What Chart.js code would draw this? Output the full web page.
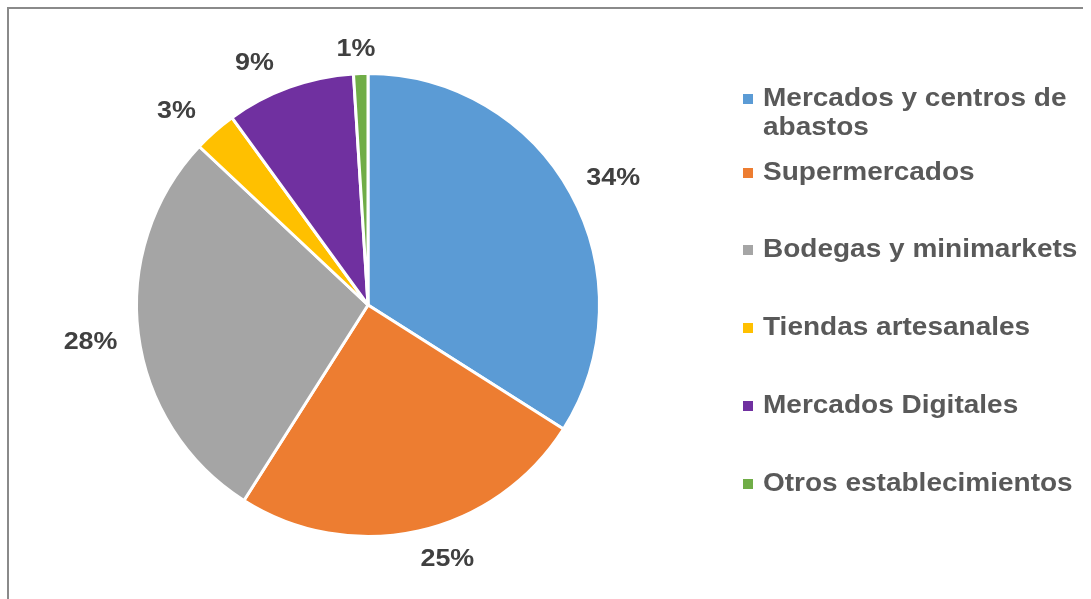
<!DOCTYPE html>
<html>
<head>
<meta charset="utf-8">
<title>Canales de compra</title>
<script src="https://cdn.jsdelivr.net/npm/chart.js@4/dist/chart.umd.min.js"></script>
<style>
  html, body { margin: 0; padding: 0; background: #ffffff; overflow: hidden; }
  canvas { display: block; }
</style>
</head>
<body>
<canvas id="chart" width="1091" height="599"></canvas>
<script>
// Categories (each entry is the list of lines shown in the legend)
const categories = [
  ['Mercados y centros de', 'abastos'],
  ['Supermercados'],
  ['Bodegas y minimarkets'],
  ['Tiendas artesanales'],
  ['Mercados Digitales'],
  ['Otros establecimientos']
];
// Share of each channel, in percent
const shares = [34, 25, 28, 3, 9, 1];
const percentLabels = shares.map(v => v + '%');
const sliceColors = ['#5B9BD5', '#ED7D31', '#A5A5A5', '#FFC000', '#7030A0', '#70AD47'];

const FONT_FAMILY = '"Liberation Sans", Arial, sans-serif';
const TEXT_STRETCH = 1.12; // slightly wide lettering

function drawStretchedText(ctx, text, x, y, align) {
  const w = ctx.measureText(text).width * TEXT_STRETCH;
  let left = x;
  if (align === 'center') left = x - w / 2;
  else if (align === 'right') left = x - w;
  ctx.save();
  ctx.translate(left, y);
  ctx.scale(TEXT_STRETCH, 1);
  ctx.textAlign = 'left';
  ctx.fillText(text, 0, 0);
  ctx.restore();
  return w;
}

// Thin frame on the left and top edges
const framePlugin = {
  id: 'frame',
  beforeDraw(chart) {
    const ctx = chart.ctx;
    ctx.save();
    ctx.fillStyle = '#ffffff';
    ctx.fillRect(0, 0, chart.width, chart.height);
    ctx.strokeStyle = '#8a8a8a';
    ctx.lineWidth = 2;
    ctx.beginPath();
    ctx.moveTo(8, chart.height);
    ctx.lineTo(8, 8);
    ctx.lineTo(1083, 8);
    ctx.stroke();
    ctx.restore();
  }
};

// Percentage labels placed just outside each slice
const outsideLabels = {
  id: 'outsideLabels',
  afterDatasetsDraw(chart, args, opts) {
    const ctx = chart.ctx;
    const meta = chart.getDatasetMeta(0);
    ctx.save();
    ctx.font = 'bold ' + opts.size + 'px ' + FONT_FAMILY;
    ctx.fillStyle = opts.color;
    ctx.textBaseline = 'alphabetic';
    meta.data.forEach((arc, i) => {
      const p = arc.getProps(['x', 'y', 'startAngle', 'endAngle', 'outerRadius'], true);
      const mid = (p.startAngle + p.endAngle) / 2;
      const dx = Math.cos(mid), dy = Math.sin(mid);
      const text = percentLabels[i];
      const w = ctx.measureText(text).width * TEXT_STRETCH;
      const h = opts.size * 0.716;
      const r = p.outerRadius + opts.gap;
      const ax = p.x + dx * r, ay = p.y + dy * r;
      const t = Math.min(
        Math.abs(dx) > 1e-6 ? (w / 2) / Math.abs(dx) : Infinity,
        Math.abs(dy) > 1e-6 ? (h / 2) / Math.abs(dy) : Infinity
      );
      const cx = ax + dx * t + (opts.shiftX[i] || 0);
      const cy = ay + dy * t + (opts.shiftY[i] || 0);
      drawStretchedText(ctx, text, cx, cy + h / 2, 'center');
    });
    ctx.restore();
  }
};

// Legend on the right with square markers and wrapped entries
const sideLegend = {
  id: 'sideLegend',
  afterDraw(chart, args, opts) {
    const ctx = chart.ctx;
    ctx.save();
    ctx.font = 'bold ' + opts.size + 'px ' + FONT_FAMILY;
    ctx.textBaseline = 'alphabetic';
    categories.forEach((lines, i) => {
      const base = opts.baselines[i];
      ctx.fillStyle = sliceColors[i];
      ctx.fillRect(opts.markerX, base - 12, 10, 10);
      ctx.fillStyle = opts.color;
      lines.forEach((line, k) => {
        drawStretchedText(ctx, line, opts.textX, base + k * opts.lineHeight, 'left');
      });
    });
    ctx.restore();
  }
};

new Chart(document.getElementById('chart'), {
  type: 'pie',
  data: {
    labels: categories.map(l => l.join(' ')),
    datasets: [{
      data: shares,
      backgroundColor: sliceColors,
      borderColor: '#ffffff',
      borderWidth: 3
    }]
  },
  options: {
    responsive: false,
    animation: false,
    devicePixelRatio: 1,
    layout: { padding: { left: 135, right: 490, top: 72, bottom: 61 } },
    plugins: {
      legend: { display: false },
      tooltip: { enabled: false },
      outsideLabels: {
        size: 24,
        color: '#404040',
        gap: 18,
        shiftX: [11, 23, -3, -19, -26, -4],
        shiftY: [0, 0, 1, 0, 0, 0]
      },
      sideLegend: {
        size: 25,
        color: '#595959',
        markerX: 743,
        textX: 763,
        lineHeight: 29,
        baselines: [106, 180, 257, 335, 413, 491]
      }
    }
  },
  plugins: [framePlugin, outsideLabels, sideLegend]
});
</script>
</body>
</html>
